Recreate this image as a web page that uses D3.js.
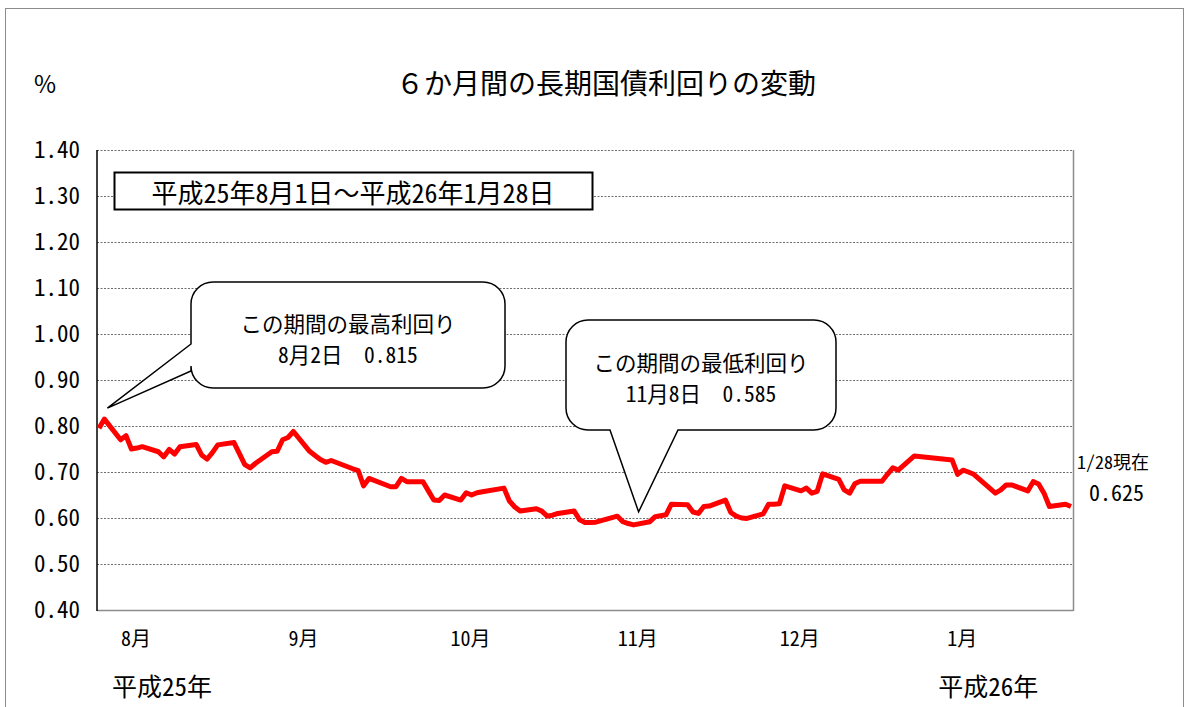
<!DOCTYPE html>
<html>
<head>
<meta charset="utf-8">
<script src="https://cdn.jsdelivr.net/npm/d3@7"></script>
<style>
  body { margin: 0; background: #fff; }
  svg text { font-family: "Noto Sans Mono CJK JP", "Noto Sans CJK JP", sans-serif; fill: #000; }
</style>
</head>
<body>
<svg id="chart" width="1187" height="707"></svg>
<script>
// trading days, 平成25年8月1日 ～ 平成26年1月28日
const dates = [
  "2013-08-01","2013-08-02","2013-08-05","2013-08-06","2013-08-07","2013-08-08","2013-08-09",
  "2013-08-12","2013-08-13","2013-08-14","2013-08-15","2013-08-16","2013-08-19","2013-08-20",
  "2013-08-21","2013-08-22","2013-08-23","2013-08-26","2013-08-27","2013-08-28","2013-08-29","2013-08-30",
  "2013-09-02","2013-09-03","2013-09-04","2013-09-05","2013-09-06","2013-09-09","2013-09-10",
  "2013-09-11","2013-09-12","2013-09-13","2013-09-17","2013-09-18","2013-09-19","2013-09-20",
  "2013-09-24","2013-09-25","2013-09-26","2013-09-27","2013-09-30",
  "2013-10-01","2013-10-02","2013-10-03","2013-10-04","2013-10-07","2013-10-08","2013-10-09",
  "2013-10-10","2013-10-11","2013-10-15","2013-10-16","2013-10-17","2013-10-18","2013-10-21",
  "2013-10-22","2013-10-23","2013-10-24","2013-10-25","2013-10-28","2013-10-29","2013-10-30","2013-10-31",
  "2013-11-01","2013-11-05","2013-11-06","2013-11-07","2013-11-08","2013-11-11","2013-11-12",
  "2013-11-13","2013-11-14","2013-11-15","2013-11-18","2013-11-19","2013-11-20","2013-11-21",
  "2013-11-22","2013-11-25","2013-11-26","2013-11-27","2013-11-28","2013-11-29",
  "2013-12-02","2013-12-03","2013-12-04","2013-12-05","2013-12-06","2013-12-09","2013-12-10",
  "2013-12-11","2013-12-12","2013-12-13","2013-12-16","2013-12-17","2013-12-18","2013-12-19",
  "2013-12-20","2013-12-24","2013-12-25","2013-12-26","2013-12-27","2013-12-30",
  "2014-01-06","2014-01-07","2014-01-08","2014-01-09","2014-01-10","2014-01-14","2014-01-15",
  "2014-01-16","2014-01-17","2014-01-20","2014-01-21","2014-01-22","2014-01-23","2014-01-24",
  "2014-01-27","2014-01-28"
];

// 10年国債利回り (%)
const yields = [
  0.795, 0.815, 0.770, 0.779, 0.750, 0.752, 0.755,
  0.744, 0.733, 0.749, 0.739, 0.755, 0.760, 0.737,
  0.728, 0.742, 0.759, 0.764, 0.740, 0.716, 0.709, 0.719,
  0.744, 0.745, 0.770, 0.775, 0.788, 0.745, 0.736,
  0.727, 0.721, 0.725, 0.707, 0.703, 0.670, 0.686,
  0.668, 0.668, 0.686, 0.679, 0.679,
  0.659, 0.639, 0.638, 0.650, 0.639, 0.655, 0.650,
  0.655, 0.657, 0.665, 0.637, 0.624, 0.615, 0.620,
  0.615, 0.604, 0.606, 0.610, 0.615, 0.596, 0.590, 0.590,
  0.591, 0.604, 0.592, 0.588, 0.585, 0.592, 0.603,
  0.605, 0.607, 0.630, 0.629, 0.613, 0.610, 0.625,
  0.626, 0.639, 0.612, 0.604, 0.600, 0.599,
  0.609, 0.630, 0.630, 0.631, 0.670, 0.659, 0.665,
  0.654, 0.658, 0.696, 0.684, 0.661, 0.654, 0.675,
  0.680, 0.680, 0.695, 0.709, 0.704, 0.735,
  0.726, 0.695, 0.704, 0.700, 0.695, 0.654, 0.661,
  0.672, 0.672, 0.659, 0.679, 0.674, 0.654, 0.625,
  0.630, 0.625
];

const yTicks = [0.40, 0.50, 0.60, 0.70, 0.80, 0.90, 1.00, 1.10, 1.20, 1.30, 1.40];
const monthLabels = ["8月", "9月", "10月", "11月", "12月", "1月"];
const yearLabels = ["平成25年", "平成26年"];
const chartTitle = "６か月間の長期国債利回りの変動";
const unitLabel = "%";
const periodLabel = "平成25年8月1日～平成26年1月28日";
const highTitle = "この期間の最高利回り";
const lowTitle = "この期間の最低利回り";
const lastLabel = "1/28現在";

const parse = d3.timeParse("%Y-%m-%d");
const data = dates.map((d, i) => ({ date: parse(d), value: yields[i] }));

const svg = d3.select("#chart");
const margin = { left: 97, right: 1073, top: 150, bottom: 610 };

const x = d3.scaleTime()
  .domain(d3.extent(data, d => d.date))
  .range([99, 1071]);
const y = d3.scaleLinear()
  .domain([0.4, 1.4])
  .range([margin.bottom, margin.top]);

// outer frame
svg.append("rect")
  .attr("x", 5.5).attr("y", 8.5)
  .attr("width", 1178).attr("height", 720)
  .attr("fill", "none").attr("stroke", "#8c8c8c").attr("stroke-width", 1);

// title + unit
svg.append("text")
  .attr("x", 606).attr("y", 82)
  .attr("text-anchor", "middle").attr("dominant-baseline", "central")
  .style("font-size", "28px")
  .text(chartTitle);
svg.append("text")
  .attr("x", 34).attr("y", 82)
  .attr("dominant-baseline", "central")
  .style("font-family", '"Noto Sans CJK JP", sans-serif')
  .style("font-size", "24px")
  .text(unitLabel);

// gridlines
svg.append("g")
  .selectAll("line")
  .data(yTicks)
  .join("line")
  .attr("x1", margin.left).attr("x2", margin.right)
  .attr("y1", d => y(d) + 0.5).attr("y2", d => y(d) + 0.5)
  .attr("stroke", "#6e6e6e").attr("stroke-width", 1)
  .attr("stroke-dasharray", "2,1.5");

// plot frame: grey right side, black left axis
svg.append("line")
  .attr("x1", margin.right + 0.5).attr("x2", margin.right + 0.5)
  .attr("y1", margin.top).attr("y2", margin.bottom + 1)
  .attr("stroke", "#8c8c8c").attr("stroke-width", 1.5);
svg.append("line")
  .attr("x1", margin.left).attr("x2", margin.right)
  .attr("y1", margin.bottom + 0.5).attr("y2", margin.bottom + 0.5)
  .attr("stroke", "#8c8c8c").attr("stroke-width", 1.5);
svg.append("line")
  .attr("x1", margin.left).attr("x2", margin.left)
  .attr("y1", margin.top).attr("y2", margin.bottom + 1)
  .attr("stroke", "#000").attr("stroke-width", 1.5);

// y axis labels
const yAxis = d3.axisLeft(y)
  .tickValues(yTicks)
  .tickFormat(d3.format(".2f"))
  .tickSize(0)
  .tickPadding(17);
const gy = svg.append("g")
  .attr("transform", `translate(${margin.left},0)`)
  .call(yAxis);
gy.select(".domain").remove();
gy.selectAll("text")
  .style("font-family", '"Noto Sans Mono CJK JP", "Noto Sans CJK JP", sans-serif')
  .style("font-size", "23px");

// month labels
const monthStarts = d3.timeMonths(d3.timeMonth.floor(data[0].date), data[data.length - 1].date);
svg.append("g")
  .selectAll("text")
  .data(monthStarts)
  .join("text")
  .attr("x", d => x(d) + 22)
  .attr("y", 637)
  .attr("dominant-baseline", "central")
  .style("font-size", "20px")
  .text((d, i) => monthLabels[i]);

// year labels under first month of each year
const yearStarts = [monthStarts[0], monthStarts[monthStarts.length - 1]];
svg.append("g")
  .selectAll("text")
  .data(yearStarts)
  .join("text")
  .attr("x", d => x(d) + 13)
  .attr("y", 685)
  .attr("dominant-baseline", "central")
  .style("font-size", "25px")
  .text((d, i) => yearLabels[i]);

// yield line
const line = d3.line()
  .x(d => x(d.date))
  .y(d => y(d.value));
svg.append("path")
  .datum(data)
  .attr("d", line)
  .attr("fill", "none")
  .attr("stroke", "#ff0000")
  .attr("stroke-width", 5)
  .attr("stroke-linejoin", "round");

// period box
svg.append("rect")
  .attr("x", 114.5).attr("y", 172.5)
  .attr("width", 478).attr("height", 37)
  .attr("fill", "#fff").attr("stroke", "#000").attr("stroke-width", 2);
svg.append("text")
  .attr("x", 353).attr("y", 191)
  .attr("text-anchor", "middle").attr("dominant-baseline", "central")
  .style("font-size", "26px")
  .text(periodLabel);

// callouts
const hi = data[d3.maxIndex(data, d => d.value)];
const lo = data[d3.minIndex(data, d => d.value)];
const md = d3.timeFormat("%-m月%-d日");
const fmt = d3.format(".3f");

function roundBox(x0, y0, x1, y1, r, side, p0, p1, tip) {
  const p = d3.path();
  p.moveTo(x0 + r, y0);
  p.lineTo(x1 - r, y0);
  p.arcTo(x1, y0, x1, y0 + r, r);
  p.lineTo(x1, y1 - r);
  p.arcTo(x1, y1, x1 - r, y1, r);
  if (side === "bottom") {
    p.lineTo(p1, y1);
    p.lineTo(tip[0], tip[1]);
    p.lineTo(p0, y1);
  }
  p.lineTo(x0 + r, y1);
  p.arcTo(x0, y1, x0, y1 - r, r);
  if (side === "left") {
    p.lineTo(x0, p1);
    p.lineTo(tip[0], tip[1]);
    p.lineTo(x0, p0);
  }
  p.lineTo(x0, y0 + r);
  p.arcTo(x0, y0, x0 + r, y0, r);
  p.closePath();
  return p.toString();
}

function twoLines(cx, cy, lines) {
  svg.append("g")
    .selectAll("text")
    .data(lines)
    .join("text")
    .attr("x", cx)
    .attr("y", (d, i) => cy + i * 31)
    .attr("text-anchor", "middle")
    .attr("dominant-baseline", "central")
    .style("font-size", "21.5px")
    .text(d => d);
}

const hiTip = [x(hi.date) + 3, y(hi.value) - 11];
svg.append("path")
  .attr("d", roundBox(191, 282, 505, 388, 22, "left", 344, 371, hiTip))
  .attr("fill", "#fff").attr("stroke", "#000").attr("stroke-width", 1.5);
twoLines(348, 322, [highTitle, md(hi.date) + "　" + fmt(hi.value)]);

const loTip = [x(lo.date) + 5, y(lo.value) - 13];
svg.append("path")
  .attr("d", roundBox(566, 320, 836, 430, 22, "bottom", 610, 678, loTip))
  .attr("fill", "#fff").attr("stroke", "#000").attr("stroke-width", 1.5);
twoLines(701, 361, [lowTitle, md(lo.date) + "　" + fmt(lo.value)]);

// latest value note
const last = data[data.length - 1];
svg.append("text")
  .attr("x", 1077).attr("y", 461)
  .attr("dominant-baseline", "central")
  .style("font-size", "18px")
  .text(lastLabel);
svg.append("text")
  .attr("x", 1089).attr("y", 491)
  .attr("dominant-baseline", "central")
  .style("font-size", "22px")
  .text(fmt(last.value));
</script>
</body>
</html>
